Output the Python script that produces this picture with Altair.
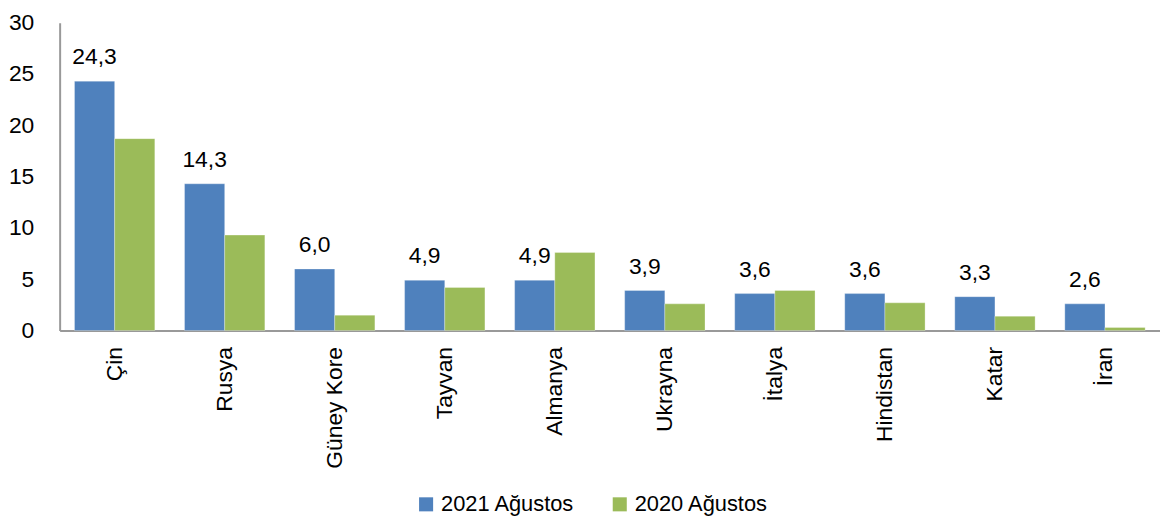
import altair as alt
import pandas as pd

countries = ["Çin", "Rusya", "Güney Kore", "Tayvan", "Almanya", "Ukrayna", "İtalya", "Hindistan", "Katar", "İran"]
v2021 = [24.3, 14.3, 6.0, 4.9, 4.9, 3.9, 3.6, 3.6, 3.3, 2.6]
v2020 = [18.7, 9.3, 1.5, 4.2, 7.6, 2.6, 3.9, 2.7, 1.4, 0.3]
series = ["2021 Ağustos", "2020 Ağustos"]
colors = ["#4F81BD", "#9BBB59"]

rows = []
for c, a, b in zip(countries, v2021, v2020):
    rows.append({"ulke": c, "seri": series[0], "deger": a, "etiket": f"{a:.1f}".replace(".", ",")})
    rows.append({"ulke": c, "seri": series[1], "deger": b, "etiket": ""})
df = pd.DataFrame(rows)

FONT = "Liberation Sans"

x_enc = alt.X("ulke:N", sort=countries, title=None,
              scale=alt.Scale(paddingInner=0.27, paddingOuter=0.135),
              axis=alt.Axis(labelAngle=-90, labelFontSize=23, labelColor="#000",
                            labelPadding=16, ticks=False, domainColor="#999", domainWidth=2,
                            labelFont=FONT))
xo = alt.XOffset("seri:N", sort=series, scale=alt.Scale(domain=series))
y_enc = alt.Y("deger:Q", title=None,
              scale=alt.Scale(domain=[0, 30]),
              axis=alt.Axis(values=[0, 5, 10, 15, 20, 25, 30], grid=False, ticks=False,
                            labelFontSize=23, labelColor="#000", labelPadding=26,
                            domainColor="#999", domainWidth=2, labelFont=FONT))

bars = alt.Chart(df).mark_bar(stroke="white", strokeWidth=0.5, strokeOpacity=0.6).encode(
    x=x_enc, xOffset=xo, y=y_enc,
    color=alt.Color("seri:N", sort=series,
                    scale=alt.Scale(domain=series, range=colors),
                    legend=alt.Legend(orient="none", legendX=358, legendY=474,
                                      title=None, direction="horizontal",
                                      labelFontSize=22, labelColor="#000", labelFont=FONT,
                                      symbolType="square", symbolSize=200, symbolStrokeWidth=0,
                                      columnPadding=34))
)

labels = alt.Chart(df[df["seri"] == series[0]]).mark_text(
    baseline="alphabetic", dy=-17, fontSize=23, font=FONT, color="#000"
).encode(
    x=alt.X("ulke:N", sort=countries), xOffset=xo, y="deger:Q", text="etiket:N"
)

chart = (bars + labels).properties(
    width=1108, height=310,
    autosize=alt.AutoSizeParams(type="none"),
    padding={"left": 52, "top": 13, "right": 0, "bottom": 190},
).configure_view(stroke=None)

chart.save("out.html", embed_options={"renderer": "svg", "actions": False})
